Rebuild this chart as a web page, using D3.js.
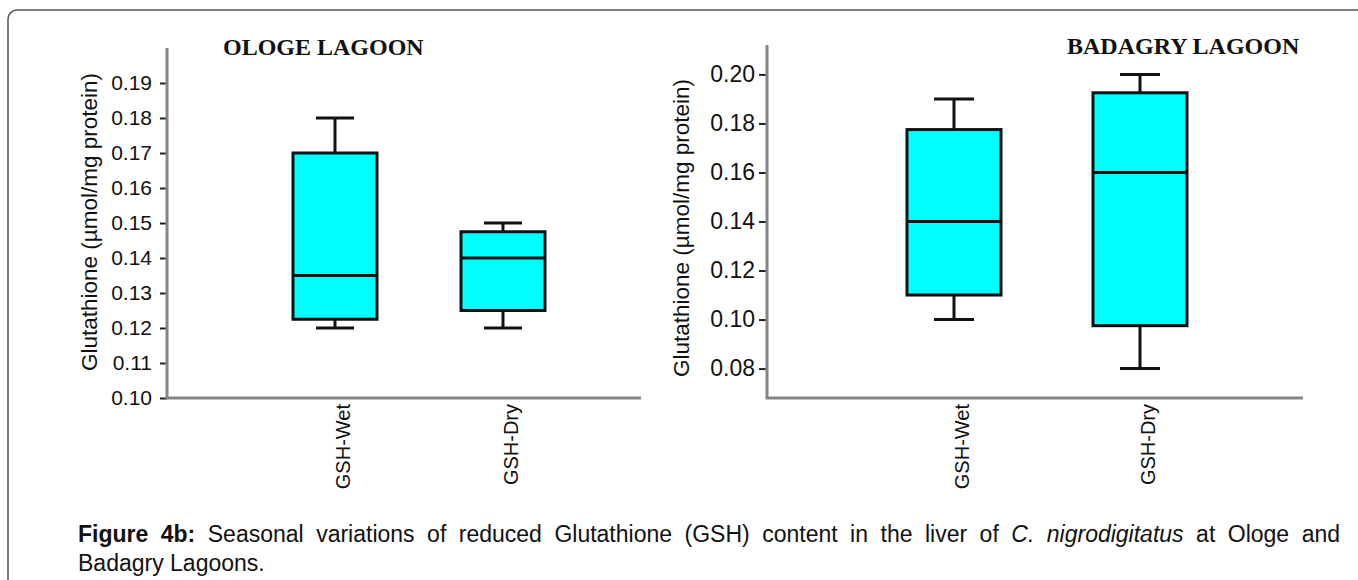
<!DOCTYPE html>
<html>
<head>
<meta charset="utf-8">
<script src="https://cdn.jsdelivr.net/npm/d3@7"></script>
<style>
  body { margin: 0; background: #fff; }
  svg { display: block; }
</style>
</head>
<body>
<script>
// categories and box statistics
const categories = ['GSH-Wet', 'GSH-Dry'];

const ologeMin = [0.12, 0.12];
const ologeQ1 = [0.1225, 0.125];
const ologeMedian = [0.135, 0.14];
const ologeQ3 = [0.17, 0.1475];
const ologeMax = [0.18, 0.15];
const ologeTicks = [0.10, 0.11, 0.12, 0.13, 0.14, 0.15, 0.16, 0.17, 0.18, 0.19];

const badagryMin = [0.10, 0.08];
const badagryQ1 = [0.11, 0.0975];
const badagryMedian = [0.14, 0.16];
const badagryQ3 = [0.1775, 0.1925];
const badagryMax = [0.19, 0.20];
const badagryTicks = [0.08, 0.10, 0.12, 0.14, 0.16, 0.18, 0.20];

const yTitle = 'Glutathione (\u00b5mol/mg protein)';

const width = 1358;
const height = 580;

const svg = d3.select('body').append('svg')
    .attr('width', width)
    .attr('height', height);

// outer frame (runs off the right and bottom edges)
svg.append('rect')
    .attr('x', 8)
    .attr('y', 10)
    .attr('width', 1420)
    .attr('height', 640)
    .attr('rx', 9)
    .attr('fill', 'none')
    .attr('stroke', '#555')
    .attr('stroke-width', 1.5);

function drawPanel(p) {
    const g = svg.append('g');

    const y = d3.scaleLinear().domain(p.yDomain).range([p.bottom, p.top]);
    const x = d3.scalePoint().domain(categories)
        .range([p.left + p.firstOffset, p.left + p.firstOffset + p.step]);

    const rows = categories.map((c, i) => ({
        cat: c, min: p.min[i], q1: p.q1[i], med: p.median[i], q3: p.q3[i], max: p.max[i]
    }));

    // y axis
    const yAxis = g.append('g')
        .attr('transform', `translate(${p.left},0)`)
        .call(d3.axisLeft(y).tickValues(p.ticks).tickFormat(d3.format('.2f'))
            .tickSize(p.tickSize).tickPadding(p.tickPad));
    yAxis.select('.domain').remove();
    yAxis.selectAll('.tick line').attr('stroke', '#222').attr('stroke-width', 2);
    yAxis.selectAll('.tick text')
        .attr('fill', '#111')
        .style('font-family', 'Liberation Sans, Arial, sans-serif')
        .style('font-size', p.tickFont + 'px');

    // axis lines (grey, heavy)
    g.append('line')
        .attr('x1', p.left).attr('x2', p.left)
        .attr('y1', p.top).attr('y2', p.bottom)
        .attr('stroke', '#858585').attr('stroke-width', 3);
    g.append('line')
        .attr('x1', p.left - 1.5).attr('x2', p.right)
        .attr('y1', p.bottom).attr('y2', p.bottom)
        .attr('stroke', '#858585').attr('stroke-width', 3);

    // whiskers
    const box = g.selectAll('.box').data(rows).enter().append('g').attr('class', 'box');
    box.append('line')
        .attr('x1', d => x(d.cat)).attr('x2', d => x(d.cat))
        .attr('y1', d => y(d.max)).attr('y2', d => y(d.q3))
        .attr('stroke', '#111').attr('stroke-width', 3);
    box.append('line')
        .attr('x1', d => x(d.cat)).attr('x2', d => x(d.cat))
        .attr('y1', d => y(d.q1)).attr('y2', d => y(d.min))
        .attr('stroke', '#111').attr('stroke-width', 3);
    box.append('line')
        .attr('x1', d => x(d.cat) - p.capW / 2).attr('x2', d => x(d.cat) + p.capW / 2)
        .attr('y1', d => y(d.max)).attr('y2', d => y(d.max))
        .attr('stroke', '#111').attr('stroke-width', 3);
    box.append('line')
        .attr('x1', d => x(d.cat) - p.capW / 2).attr('x2', d => x(d.cat) + p.capW / 2)
        .attr('y1', d => y(d.min)).attr('y2', d => y(d.min))
        .attr('stroke', '#111').attr('stroke-width', 3);

    // boxes
    box.append('rect')
        .attr('x', d => x(d.cat) - p.boxW / 2)
        .attr('y', d => y(d.q3))
        .attr('width', p.boxW)
        .attr('height', d => y(d.q1) - y(d.q3))
        .attr('fill', '#00ffff')
        .attr('stroke', '#111')
        .attr('stroke-width', 3);
    box.append('line')
        .attr('x1', d => x(d.cat) - p.boxW / 2).attr('x2', d => x(d.cat) + p.boxW / 2)
        .attr('y1', d => y(d.med)).attr('y2', d => y(d.med))
        .attr('stroke', '#111').attr('stroke-width', 3);

    // category labels, rotated
    g.selectAll('.cat').data(categories).enter().append('text')
        .attr('transform', d => `translate(${x(d) + p.catShift},${p.bottom + 6}) rotate(-90)`)
        .attr('text-anchor', 'end')
        .style('font-family', 'Liberation Sans, Arial, sans-serif')
        .style('font-size', '20px')
        .attr('fill', '#111')
        .text(d => d);

    // y axis title
    g.append('text')
        .attr('transform', `translate(${p.titleX},${p.titleY}) rotate(-90)`)
        .attr('text-anchor', 'middle')
        .style('font-family', 'Liberation Sans, Arial, sans-serif')
        .style('font-size', '22.5px')
        .attr('fill', '#111')
        .text(yTitle);

    // panel heading
    g.append('text')
        .attr('x', p.headX)
        .attr('y', p.headY)
        .style('font-family', 'Liberation Serif, Times New Roman, serif')
        .style('font-weight', 'bold')
        .style('font-size', p.headFont + 'px')
        .attr('fill', '#111')
        .text(p.heading);
}

drawPanel({
    heading: 'OLOGE LAGOON', headX: 223, headY: 55, headFont: 24,
    left: 167, right: 641, top: 48, bottom: 398,
    yDomain: [0.10, 0.20], ticks: ologeTicks, tickSize: 7, tickPad: 8, tickFont: 21,
    firstOffset: 168, step: 168, boxW: 84, capW: 38, catShift: 15,
    titleX: 97, titleY: 222,
    min: ologeMin, q1: ologeQ1, median: ologeMedian, q3: ologeQ3, max: ologeMax
});

drawPanel({
    heading: 'BADAGRY LAGOON', headX: 1067, headY: 54, headFont: 24,
    left: 767, right: 1303, top: 45, bottom: 398,
    yDomain: [0.068, 0.212], ticks: badagryTicks, tickSize: 8, tickPad: 4, tickFont: 23,
    firstOffset: 187, step: 186, boxW: 94, capW: 40, catShift: 15,
    titleX: 689, titleY: 228,
    min: badagryMin, q1: badagryQ1, median: badagryMedian, q3: badagryQ3, max: badagryMax
});

// caption
const captionFont = 'Liberation Sans, Arial, sans-serif';
const cap1 = svg.append('text')
    .attr('x', 78).attr('y', 542)
    .style('font-family', captionFont)
    .style('font-size', '23px')
    .attr('fill', '#111');
cap1.append('tspan').style('font-weight', 'bold').text('Figure 4b:');
cap1.append('tspan').text(' Seasonal variations of reduced Glutathione (GSH) content in the liver of ');
cap1.append('tspan').style('font-style', 'italic').text('C. nigrodigitatus');
cap1.append('tspan').text(' at Ologe and');

// justify the first line to the text block width
const natural = cap1.node().getComputedTextLength();
const spaces = cap1.text().split(' ').length - 1;
cap1.style('word-spacing', Math.max(0, (1340 - 78 - natural) / spaces) + 'px');

svg.append('text')
    .attr('x', 78).attr('y', 571)
    .style('font-family', captionFont)
    .style('font-size', '23px')
    .attr('fill', '#111')
    .text('Badagry Lagoons.');
</script>
</body>
</html>
